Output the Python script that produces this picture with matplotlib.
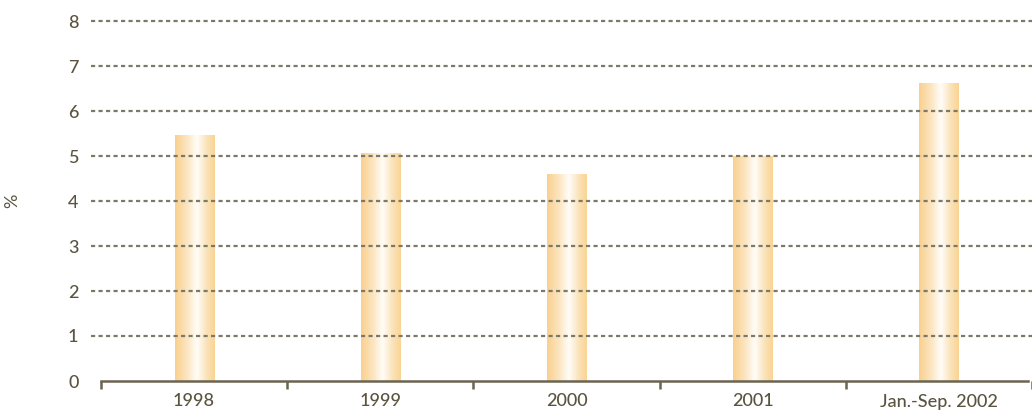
import numpy as np
import matplotlib
matplotlib.use("Agg")
import matplotlib.pyplot as plt
from matplotlib.colors import LinearSegmentedColormap

# Annual rates (%)
categories = ["1998", "1999", "2000", "2001", "Jan.-Sep. 2002"]
values = [5.47, 5.06, 4.6, 5.0, 6.62]
y_ticks = [0, 1, 2, 3, 4, 5, 6, 7, 8]

TEXT = "#5a533f"
AXIS = "#6a6450"
GRID = "#7d7968"

plt.rcParams["font.family"] = ["Lato", "DejaVu Sans"]
plt.rcParams["lines.scale_dashes"] = False

W, H = 1032, 412
fig = plt.figure(figsize=(W / 100, H / 100), dpi=100)
left_px, bottom_px, top_px = 91, 31, 391
ax = fig.add_axes([left_px / W, bottom_px / H, 1 - left_px / W, (top_px - bottom_px) / H])

x = np.arange(len(categories))
cat_px = 187.0
x_left = -0.5 - (101 - left_px) / cat_px
x_right = -0.5 + (W - 101) / cat_px
ax.set_xlim(x_left, x_right)
ax.set_ylim(0, 8)

# bars with horizontal orange-white-orange shading
cmap = LinearSegmentedColormap.from_list(
    "barshade",
    [(0.0, "#f9d08e"), (0.3, "#fce5c0"), (0.55, "#fffdf9"), (0.8, "#fbe2b8"), (1.0, "#f9d493")],
)
grad = np.linspace(0, 1, 256).reshape(1, -1)
bar_w = 0.21
bars = ax.bar(x, values, width=bar_w, color="none", edgecolor="none", zorder=1)
for b in bars:
    x0, w, h = b.get_x(), b.get_width(), b.get_height()
    im = ax.imshow(grad, cmap=cmap, extent=[x0, x0 + w, 0, h], aspect="auto",
                   interpolation="bicubic", zorder=1)
    im.set_clip_path(b)

# dashed grid drawn above the bars
for yv in y_ticks[1:]:
    ax.axhline(yv, color=GRID, lw=1.6, linestyle=(0, (3.0, 2.4)), zorder=2, clip_on=False)

# spines
for s in ["left", "top", "right"]:
    ax.spines[s].set_visible(False)
ax.spines["bottom"].set_color(AXIS)
ax.spines["bottom"].set_linewidth(1.8)
ax.spines["bottom"].set_bounds(-0.5, x_right)
ax.spines["bottom"].set_zorder(3)

# category labels centred, separator ticks between categories
ax.set_xticks(x)
ax.set_xticklabels(categories)
ax.set_xticks(np.arange(-0.5, len(categories), 1.0), minor=True)
ax.tick_params(axis="x", which="major", length=0, pad=9, labelsize=13, labelcolor=TEXT)
ax.tick_params(axis="x", which="minor", length=6, width=1.8, color=AXIS, direction="out")

ax.set_yticks(y_ticks)
ax.tick_params(axis="y", length=0, pad=9, labelsize=13, labelcolor=TEXT)
ax.set_ylabel("%", color=TEXT, fontsize=13)
ax.yaxis.set_label_coords((20 - left_px) / (W - left_px), 0.5)

for lbl in ax.get_xticklabels() + ax.get_yticklabels():
    lbl.set_fontweight("medium")

fig.savefig("out.png", dpi=100)
